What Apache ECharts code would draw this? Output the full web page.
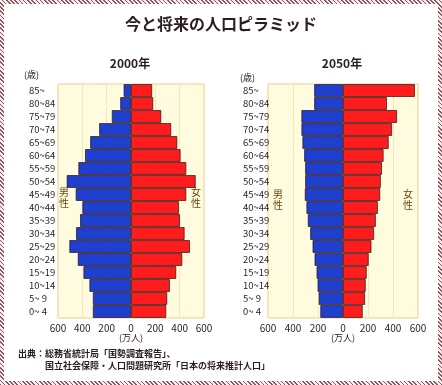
<!DOCTYPE html>
<html><head><meta charset="utf-8">
<script src="https://cdn.jsdelivr.net/npm/echarts@6/dist/echarts.min.js"></script>
<style>
html,body{margin:0;padding:0;background:#fff;}
#frame{position:absolute;left:0;top:0;width:442px;height:385px;
 background:repeating-linear-gradient(45deg,#8a5a60 0 1.2px,#f8eef0 1.2px 3px);}
#inner{position:absolute;left:4px;top:4px;right:4px;bottom:4px;background:#fff;}
#c{position:absolute;left:0;top:0;width:442px;height:385px;}
</style></head>
<body>
<div id="frame"><div id="inner"></div></div>
<div id="c"></div>
<script>
const ageGroups = ['85~','80~84','75~79','70~74','65~69','60~64','55~59','50~54','45~49','40~44','35~39','30~34','25~29','20~24','15~19','10~14','5~ 9','0~ 4'];
const male2000   = [60, 88, 157, 261, 335, 377, 432, 528, 454, 399, 418, 451, 506, 437, 390, 341, 313, 313];
const female2000 = [173, 182, 248, 330, 380, 407, 454, 531, 454, 393, 402, 440, 484, 421, 371, 319, 297, 289];
const male2050   = [230, 230, 332, 332, 324, 310, 302, 302, 305, 292, 281, 262, 243, 227, 211, 203, 194, 181];
const female2050 = [575, 351, 432, 392, 365, 324, 311, 302, 297, 278, 262, 248, 227, 205, 189, 181, 176, 157];
const xTicks = [-600, 600, 200];

const chart = echarts.init(document.getElementById('c'), null, {renderer:'canvas'});
const font = '"Noto Sans CJK JP", "Noto Sans", sans-serif';
const txt = '#2b1d1d';
const brown = '#6a4412';

function xAxis(i){
  return {gridIndex:i, type:'value', min:xTicks[0], max:xTicks[1], interval:xTicks[2],
    axisLine:{show:false}, axisTick:{show:false},
    axisLabel:{formatter:v=>Math.abs(v), fontSize:10, color:txt, margin:5, fontFamily:font},
    splitLine:{show:true, lineStyle:{color:'#f2e8b8', width:1}}};
}
function yAxis(i, margin){
  return {gridIndex:i, type:'category', data:ageGroups, inverse:true,
    axisLine:{show:false}, axisTick:{show:false},
    axisLabel:{align:'left', margin:margin, fontSize:9.5, color:txt, fontFamily:font}};
}
function bars(i, data, color, sign){
  return {type:'bar', xAxisIndex:i, yAxisIndex:i, stack:'s'+i, barCategoryGap:'3%',
    data:data.map(v=>sign*v),
    itemStyle:{color:color, borderColor:'#2a0e0e', borderWidth:0.7}};
}
const option = {
  animation:false,
  grid:[
    {left:58, right:238, top:84, bottom:67, show:true, backgroundColor:'#fffbdf', borderColor:'#e6cf8e', borderWidth:1},
    {left:268, right:24, top:84, bottom:67, show:true, backgroundColor:'#fffbdf', borderColor:'#e6cf8e', borderWidth:1}
  ],
  xAxis:[xAxis(0), xAxis(1)],
  yAxis:[yAxis(0, 29), yAxis(1, 25)],
  series:[
    bars(0, male2000, '#1f3fcf', -1),
    bars(0, female2000, '#ff1c1c', 1),
    bars(1, male2050, '#1f3fcf', -1),
    bars(1, female2050, '#ff1c1c', 1)
  ],
  graphic:[
    {type:'text', x:221, y:24, style:{text:'今と将来の人口ピラミッド', fill:txt, font:'bold 16px '+font, textAlign:'center', textVerticalAlign:'middle'}},
    {type:'text', x:130, y:63, style:{text:'2000年', fill:txt, font:'bold 12px '+font, textAlign:'center', textVerticalAlign:'middle'}},
    {type:'text', x:342, y:63, style:{text:'2050年', fill:txt, font:'bold 12px '+font, textAlign:'center', textVerticalAlign:'middle'}},
    {type:'text', x:24, y:75, style:{text:'(歳)', fill:txt, font:'9px '+font, textVerticalAlign:'middle'}},
    {type:'text', x:240, y:78, style:{text:'(歳)', fill:txt, font:'9px '+font, textVerticalAlign:'middle'}},
    {type:'text', x:64, y:198, style:{text:'男\n性', fill:brown, font:'10px '+font, textAlign:'center', textVerticalAlign:'middle', lineHeight:11}},
    {type:'text', x:196, y:198, style:{text:'女\n性', fill:brown, font:'10px '+font, textAlign:'center', textVerticalAlign:'middle', lineHeight:11}},
    {type:'text', x:278, y:200, style:{text:'男\n性', fill:brown, font:'10px '+font, textAlign:'center', textVerticalAlign:'middle', lineHeight:11}},
    {type:'text', x:408, y:200, style:{text:'女\n性', fill:brown, font:'10px '+font, textAlign:'center', textVerticalAlign:'middle', lineHeight:11}},
    {type:'text', x:131, y:338, style:{text:'(万人)', fill:txt, font:'9px '+font, textAlign:'center', textVerticalAlign:'middle'}},
    {type:'text', x:343, y:338, style:{text:'(万人)', fill:txt, font:'9px '+font, textAlign:'center', textVerticalAlign:'middle'}},
    {type:'text', x:18, y:354, style:{text:'出典：総務省統計局「国勢調査報告」、', fill:txt, font:'bold 9px '+font, textVerticalAlign:'middle'}},
    {type:'text', x:45, y:366, style:{text:'国立社会保障・人口問題研究所「日本の将来推計人口」', fill:txt, font:'bold 9px '+font, textVerticalAlign:'middle'}}
  ]
};
chart.setOption(option);
</script>
</body></html>
